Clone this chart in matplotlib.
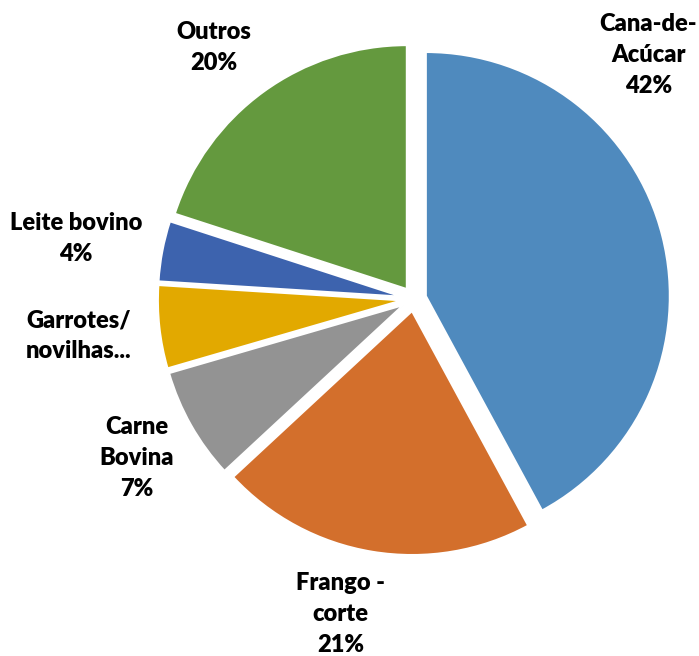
import matplotlib
matplotlib.use("Agg")
import matplotlib.pyplot as plt

# dados
categorias = ["Cana-de-\nAcúcar", "Frango -\ncorte", "Carne\nBovina",
              "Garrotes/\nnovilhas...", "Leite bovino", "Outros"]
valores = [42.1, 21, 7.4, 5.5, 4, 20]
mostrar_pct = [True, True, True, False, True, True]
cores = ["#4F8ABE", "#D36F2C", "#939393", "#E2A900", "#3D63AE", "#64993E"]

# posicao dos rotulos (em unidades do raio)
pos_rotulos = [(0.96, 1.0), (-0.30, -1.29), (-1.135, -0.65),
               (-1.375, -0.15), (-1.385, 0.25), (-0.82, 1.03)]

plt.rcParams['font.family'] = ['Lato', 'DejaVu Sans']

fig = plt.figure(figsize=(6.99, 6.56), dpi=100)
ax = fig.add_axes([0, 0, 1, 1])

wedges, _ = ax.pie(valores, colors=cores, startangle=90, counterclock=False,
                   explode=[0.05] * len(valores), radius=1.0, center=(0, 0),
                   wedgeprops=dict(edgecolor="white", linewidth=1.5),
                   frame=True)

for cat, v, mostra, (x, y) in zip(categorias, valores, mostrar_pct, pos_rotulos):
    txt = f"{cat}\n{v:.0f}%" if mostra else cat
    ax.text(x, y, txt, ha="center", va="center", fontsize=17,
            fontweight="heavy", linespacing=1.5, color="black")

ax.set_xlim(-414 / 244, (699 - 414) / 244)
ax.set_ylim(-(656 - 299) / 244, 299 / 244)
ax.set_aspect("auto")
ax.axis("off")

plt.savefig("out.png", dpi=100)
